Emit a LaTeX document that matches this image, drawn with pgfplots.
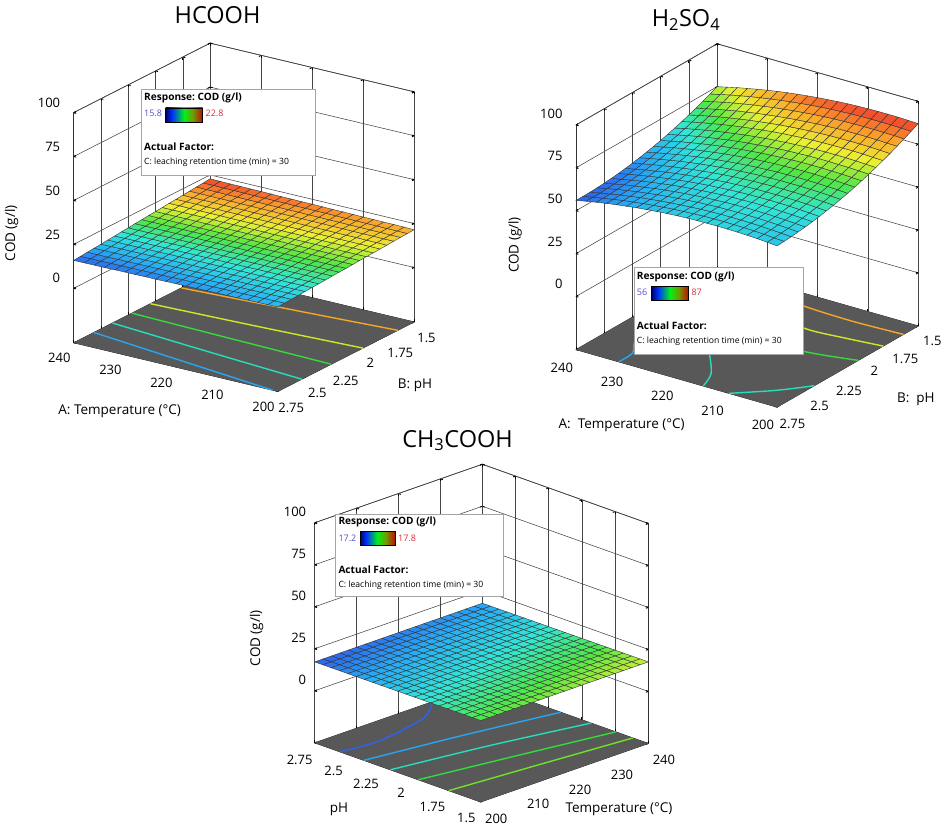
\documentclass[border=0pt]{standalone}
\usepackage{fontspec}
\setmainfont{Open Sans}
\usepackage{pgfplots}
\usepackage{pgfplotstable}
\pgfplotsset{compat=1.18}
\frenchspacing

\definecolor{floorgray}{RGB}{88,88,88}
\definecolor{gridc}{RGB}{70,70,70}
\definecolor{boxc}{RGB}{165,165,165}
\definecolor{numblue}{RGB}{80,80,210}
\definecolor{numred}{RGB}{215,50,60}
\definecolor{kBlue}{RGB}{45,100,235}
\definecolor{kLblue}{RGB}{40,165,240}
\definecolor{kCyan}{RGB}{40,220,190}
\definecolor{kGreen}{RGB}{50,220,60}
\definecolor{kLgreen}{RGB}{110,225,40}
\definecolor{kYellow}{RGB}{210,230,40}
\definecolor{kOrange}{RGB}{245,165,40}

\pgfdeclarehorizontalshading{cbar}{100bp}{rgb(0bp)=(0,0,0.45); rgb(25bp)=(0,0,0.45); rgb(34bp)=(0,0.2,1); rgb(50bp)=(0,0.95,0.1); rgb(62bp)=(0.45,0.6,0); rgb(75bp)=(0.75,0.05,0); rgb(100bp)=(0.75,0.05,0)}

\pgfplotsset{
  colormap={de}{rgb255=(45,95,235) rgb255=(40,175,245) rgb255=(50,230,215) rgb255=(80,230,70) rgb255=(235,240,50) rgb255=(250,165,45) rgb255=(240,65,45)},
  rsm/.style={
    disabledatascaling,
    anchor=origin, clip=false,
    xmin=0,xmax=20,ymin=0,ymax=20,zmin=-31,zmax=100,
    ztick={0,25,50,75,100},
    grid=major,
    major grid style={draw=gridc, line width=0.55pt},
    axis line style={draw=black!80, line width=0.6pt},
    tick style={draw=black, line width=0.9pt},
    major tick length=2.5pt,
    tick label style={font=\fontsize{13}{15}\selectfont},
    /pgf/number format/assume math mode=true,
    colormap name=de,
    no markers,
  },
  surfst/.style={surf, shader=faceted, faceted color=black!80, line width=0.4pt, mesh/rows=21},
  cline/.style={line width=1.4pt, smooth},
}

% HCOOH surface: i = temperature index (200..240 step 2), j = pH index (1.5..2.75 step 0.0625)
\pgfplotstableread{
i j z
0 0 21.5
0 1 21.3
0 2 21.1
0 3 20.9
0 4 20.6
0 5 20.4
0 6 20.2
0 7 20.0
0 8 19.8
0 9 19.5
0 10 19.3
0 11 19.1
0 12 18.9
0 13 18.6
0 14 18.4
0 15 18.2
0 16 18.0
0 17 17.7
0 18 17.5
0 19 17.3
0 20 17.1
1 0 21.6
1 1 21.4
1 2 21.1
1 3 20.9
1 4 20.7
1 5 20.5
1 6 20.2
1 7 20.0
1 8 19.8
1 9 19.5
1 10 19.3
1 11 19.1
1 12 18.9
1 13 18.6
1 14 18.4
1 15 18.2
1 16 17.9
1 17 17.7
1 18 17.5
1 19 17.2
1 20 17.0
2 0 21.7
2 1 21.4
2 2 21.2
2 3 21.0
2 4 20.7
2 5 20.5
2 6 20.3
2 7 20.0
2 8 19.8
2 9 19.5
2 10 19.3
2 11 19.1
2 12 18.8
2 13 18.6
2 14 18.4
2 15 18.1
2 16 17.9
2 17 17.7
2 18 17.4
2 19 17.2
2 20 17.0
3 0 21.7
3 1 21.5
3 2 21.2
3 3 21.0
3 4 20.8
3 5 20.5
3 6 20.3
3 7 20.0
3 8 19.8
3 9 19.6
3 10 19.3
3 11 19.1
3 12 18.8
3 13 18.6
3 14 18.3
3 15 18.1
3 16 17.9
3 17 17.6
3 18 17.4
3 19 17.1
3 20 16.9
4 0 21.8
4 1 21.5
4 2 21.3
4 3 21.0
4 4 20.8
4 5 20.5
4 6 20.3
4 7 20.1
4 8 19.8
4 9 19.6
4 10 19.3
4 11 19.1
4 12 18.8
4 13 18.6
4 14 18.3
4 15 18.1
4 16 17.8
4 17 17.6
4 18 17.3
4 19 17.1
4 20 16.8
5 0 21.8
5 1 21.6
5 2 21.3
5 3 21.1
5 4 20.8
5 5 20.6
5 6 20.3
5 7 20.1
5 8 19.8
5 9 19.6
5 10 19.3
5 11 19.1
5 12 18.8
5 13 18.5
5 14 18.3
5 15 18.0
5 16 17.8
5 17 17.5
5 18 17.3
5 19 17.0
5 20 16.8
6 0 21.9
6 1 21.6
6 2 21.4
6 3 21.1
6 4 20.9
6 5 20.6
6 6 20.3
6 7 20.1
6 8 19.8
6 9 19.6
6 10 19.3
6 11 19.1
6 12 18.8
6 13 18.5
6 14 18.3
6 15 18.0
6 16 17.8
6 17 17.5
6 18 17.2
6 19 17.0
6 20 16.7
7 0 22.0
7 1 21.7
7 2 21.4
7 3 21.2
7 4 20.9
7 5 20.6
7 6 20.4
7 7 20.1
7 8 19.8
7 9 19.6
7 10 19.3
7 11 19.0
7 12 18.8
7 13 18.5
7 14 18.2
7 15 18.0
7 16 17.7
7 17 17.4
7 18 17.2
7 19 16.9
7 20 16.7
8 0 22.0
8 1 21.8
8 2 21.5
8 3 21.2
8 4 20.9
8 5 20.7
8 6 20.4
8 7 20.1
8 8 19.9
8 9 19.6
8 10 19.3
8 11 19.0
8 12 18.8
8 13 18.5
8 14 18.2
8 15 18.0
8 16 17.7
8 17 17.4
8 18 17.1
8 19 16.9
8 20 16.6
9 0 22.1
9 1 21.8
9 2 21.5
9 3 21.3
9 4 21.0
9 5 20.7
9 6 20.4
9 7 20.1
9 8 19.9
9 9 19.6
9 10 19.3
9 11 19.0
9 12 18.8
9 13 18.5
9 14 18.2
9 15 17.9
9 16 17.6
9 17 17.4
9 18 17.1
9 19 16.8
9 20 16.5
10 0 22.2
10 1 21.9
10 2 21.6
10 3 21.3
10 4 21.0
10 5 20.7
10 6 20.4
10 7 20.2
10 8 19.9
10 9 19.6
10 10 19.3
10 11 19.0
10 12 18.7
10 13 18.5
10 14 18.2
10 15 17.9
10 16 17.6
10 17 17.3
10 18 17.0
10 19 16.8
10 20 16.5
11 0 22.2
11 1 21.9
11 2 21.6
11 3 21.3
11 4 21.1
11 5 20.8
11 6 20.5
11 7 20.2
11 8 19.9
11 9 19.6
11 10 19.3
11 11 19.0
11 12 18.7
11 13 18.4
11 14 18.1
11 15 17.9
11 16 17.6
11 17 17.3
11 18 17.0
11 19 16.7
11 20 16.4
12 0 22.3
12 1 22.0
12 2 21.7
12 3 21.4
12 4 21.1
12 5 20.8
12 6 20.5
12 7 20.2
12 8 19.9
12 9 19.6
12 10 19.3
12 11 19.0
12 12 18.7
12 13 18.4
12 14 18.1
12 15 17.8
12 16 17.5
12 17 17.2
12 18 16.9
12 19 16.6
12 20 16.3
13 0 22.3
13 1 22.0
13 2 21.7
13 3 21.4
13 4 21.1
13 5 20.8
13 6 20.5
13 7 20.2
13 8 19.9
13 9 19.6
13 10 19.3
13 11 19.0
13 12 18.7
13 13 18.4
13 14 18.1
13 15 17.8
13 16 17.5
13 17 17.2
13 18 16.9
13 19 16.6
13 20 16.3
14 0 22.4
14 1 22.1
14 2 21.8
14 3 21.5
14 4 21.2
14 5 20.9
14 6 20.5
14 7 20.2
14 8 19.9
14 9 19.6
14 10 19.3
14 11 19.0
14 12 18.7
14 13 18.4
14 14 18.1
14 15 17.8
14 16 17.5
14 17 17.2
14 18 16.8
14 19 16.5
14 20 16.2
15 0 22.5
15 1 22.1
15 2 21.8
15 3 21.5
15 4 21.2
15 5 20.9
15 6 20.6
15 7 20.3
15 8 19.9
15 9 19.6
15 10 19.3
15 11 19.0
15 12 18.7
15 13 18.4
15 14 18.1
15 15 17.7
15 16 17.4
15 17 17.1
15 18 16.8
15 19 16.5
15 20 16.2
16 0 22.5
16 1 22.2
16 2 21.9
16 3 21.6
16 4 21.2
16 5 20.9
16 6 20.6
16 7 20.3
16 8 20.0
16 9 19.6
16 10 19.3
16 11 19.0
16 12 18.7
16 13 18.3
16 14 18.0
16 15 17.7
16 16 17.4
16 17 17.1
16 18 16.7
16 19 16.4
16 20 16.1
17 0 22.6
17 1 22.3
17 2 21.9
17 3 21.6
17 4 21.3
17 5 20.9
17 6 20.6
17 7 20.3
17 8 20.0
17 9 19.6
17 10 19.3
17 11 19.0
17 12 18.7
17 13 18.3
17 14 18.0
17 15 17.7
17 16 17.3
17 17 17.0
17 18 16.7
17 19 16.4
17 20 16.0
18 0 22.6
18 1 22.3
18 2 22.0
18 3 21.6
18 4 21.3
18 5 21.0
18 6 20.6
18 7 20.3
18 8 20.0
18 9 19.6
18 10 19.3
18 11 19.0
18 12 18.6
18 13 18.3
18 14 18.0
18 15 17.6
18 16 17.3
18 17 17.0
18 18 16.6
18 19 16.3
18 20 16.0
19 0 22.7
19 1 22.4
19 2 22.0
19 3 21.7
19 4 21.3
19 5 21.0
19 6 20.7
19 7 20.3
19 8 20.0
19 9 19.6
19 10 19.3
19 11 19.0
19 12 18.6
19 13 18.3
19 14 18.0
19 15 17.6
19 16 17.3
19 17 16.9
19 18 16.6
19 19 16.3
19 20 15.9
20 0 22.8
20 1 22.4
20 2 22.1
20 3 21.7
20 4 21.4
20 5 21.0
20 6 20.7
20 7 20.3
20 8 20.0
20 9 19.7
20 10 19.3
20 11 19.0
20 12 18.6
20 13 18.3
20 14 17.9
20 15 17.6
20 16 17.2
20 17 16.9
20 18 16.6
20 19 16.2
20 20 15.9
}\surfA

% H2SO4 surface
\pgfplotstableread{
i j z
0 0 87.0
0 1 84.9
0 2 82.8
0 3 80.9
0 4 79.0
0 5 77.3
0 6 75.6
0 7 74.1
0 8 72.6
0 9 71.3
0 10 70.0
0 11 68.9
0 12 67.8
0 13 66.9
0 14 66.0
0 15 65.3
0 16 64.6
0 17 64.1
0 18 63.6
0 19 63.3
0 20 63.0
1 0 87.2
1 1 85.1
1 2 83.1
1 3 81.1
1 4 79.3
1 5 77.5
1 6 75.9
1 7 74.4
1 8 72.9
1 9 71.6
1 10 70.4
1 11 69.2
1 12 68.2
1 13 67.2
1 14 66.4
1 15 65.7
1 16 65.0
1 17 64.5
1 18 64.1
1 19 63.7
1 20 63.5
2 0 87.4
2 1 85.3
2 2 83.2
2 3 81.3
2 4 79.5
2 5 77.8
2 6 76.1
2 7 74.6
2 8 73.2
2 9 71.9
2 10 70.6
2 11 69.5
2 12 68.5
2 13 67.6
2 14 66.7
2 15 66.0
2 16 65.4
2 17 64.9
2 18 64.4
2 19 64.1
2 20 63.9
3 0 87.4
3 1 85.3
3 2 83.3
3 3 81.4
3 4 79.6
3 5 77.9
3 6 76.3
3 7 74.7
3 8 73.3
3 9 72.0
3 10 70.8
3 11 69.7
3 12 68.7
3 13 67.8
3 14 67.0
3 15 66.2
3 16 65.6
3 17 65.1
3 18 64.7
3 19 64.4
3 20 64.2
4 0 87.4
4 1 85.3
4 2 83.3
4 3 81.4
4 4 79.6
4 5 77.9
4 6 76.3
4 7 74.8
4 8 73.4
4 9 72.1
4 10 70.9
4 11 69.8
4 12 68.8
4 13 67.9
4 14 67.1
4 15 66.4
4 16 65.8
4 17 65.3
4 18 64.9
4 19 64.6
4 20 64.4
5 0 87.3
5 1 85.2
5 2 83.2
5 3 81.3
5 4 79.5
5 5 77.8
5 6 76.3
5 7 74.8
5 8 73.4
5 9 72.1
5 10 70.9
5 11 69.8
5 12 68.8
5 13 67.9
5 14 67.2
5 15 66.5
5 16 65.9
5 17 65.4
5 18 65.0
5 19 64.7
5 20 64.5
6 0 87.1
6 1 85.0
6 2 83.0
6 3 81.2
6 4 79.4
6 5 77.7
6 6 76.1
6 7 74.7
6 8 73.3
6 9 72.0
6 10 70.8
6 11 69.8
6 12 68.8
6 13 67.9
6 14 67.1
6 15 66.5
6 16 65.9
6 17 65.4
6 18 65.0
6 19 64.8
6 20 64.6
7 0 86.8
7 1 84.7
7 2 82.8
7 3 80.9
7 4 79.1
7 5 77.5
7 6 75.9
7 7 74.4
7 8 73.1
7 9 71.8
7 10 70.7
7 11 69.6
7 12 68.6
7 13 67.8
7 14 67.0
7 15 66.3
7 16 65.8
7 17 65.3
7 18 65.0
7 19 64.7
7 20 64.5
8 0 86.4
8 1 84.4
8 2 82.4
8 3 80.6
8 4 78.8
8 5 77.2
8 6 75.6
8 7 74.2
8 8 72.8
8 9 71.6
8 10 70.4
8 11 69.4
8 12 68.4
8 13 67.6
8 14 66.8
8 15 66.2
8 16 65.6
8 17 65.2
8 18 64.8
8 19 64.6
8 20 64.4
9 0 85.9
9 1 83.9
9 2 82.0
9 3 80.1
9 4 78.4
9 5 76.7
9 6 75.2
9 7 73.8
9 8 72.4
9 9 71.2
9 10 70.1
9 11 69.0
9 12 68.1
9 13 67.2
9 14 66.5
9 15 65.9
9 16 65.3
9 17 64.9
9 18 64.6
9 19 64.3
9 20 64.2
10 0 85.4
10 1 83.4
10 2 81.4
10 3 79.6
10 4 77.9
10 5 76.3
10 6 74.7
10 7 73.3
10 8 72.0
10 9 70.8
10 10 69.6
10 11 68.6
10 12 67.7
10 13 66.9
10 14 66.1
10 15 65.5
10 16 65.0
10 17 64.6
10 18 64.2
10 19 64.0
10 20 63.9
11 0 84.7
11 1 82.7
11 2 80.8
11 3 79.0
11 4 77.3
11 5 75.7
11 6 74.2
11 7 72.7
11 8 71.4
11 9 70.2
11 10 69.1
11 11 68.1
11 12 67.2
11 13 66.4
11 14 65.7
11 15 65.0
11 16 64.5
11 17 64.1
11 18 63.8
11 19 63.6
11 20 63.5
12 0 84.0
12 1 82.0
12 2 80.1
12 3 78.3
12 4 76.6
12 5 75.0
12 6 73.5
12 7 72.1
12 8 70.8
12 9 69.6
12 10 68.5
12 11 67.5
12 12 66.6
12 13 65.8
12 14 65.1
12 15 64.5
12 16 64.0
12 17 63.6
12 18 63.3
12 19 63.1
12 20 63.0
13 0 83.2
13 1 81.2
13 2 79.3
13 3 77.5
13 4 75.8
13 5 74.2
13 6 72.8
13 7 71.4
13 8 70.1
13 9 68.9
13 10 67.8
13 11 66.8
13 12 65.9
13 13 65.1
13 14 64.5
13 15 63.9
13 16 63.4
13 17 63.0
13 18 62.7
13 19 62.5
13 20 62.4
14 0 82.3
14 1 80.3
14 2 78.4
14 3 76.7
14 4 75.0
14 5 73.4
14 6 71.9
14 7 70.6
14 8 69.3
14 9 68.1
14 10 67.0
14 11 66.1
14 12 65.2
14 13 64.4
14 14 63.7
14 15 63.2
14 16 62.7
14 17 62.3
14 18 62.0
14 19 61.9
14 20 61.8
15 0 81.3
15 1 79.3
15 2 77.5
15 3 75.7
15 4 74.0
15 5 72.5
15 6 71.0
15 7 69.6
15 8 68.4
15 9 67.2
15 10 66.2
15 11 65.2
15 12 64.3
15 13 63.6
15 14 62.9
15 15 62.3
15 16 61.9
15 17 61.5
15 18 61.3
15 19 61.1
15 20 61.0
16 0 80.2
16 1 78.3
16 2 76.4
16 3 74.7
16 4 73.0
16 5 71.5
16 6 70.0
16 7 68.7
16 8 67.4
16 9 66.3
16 10 65.2
16 11 64.3
16 12 63.4
16 13 62.7
16 14 62.0
16 15 61.5
16 16 61.0
16 17 60.7
16 18 60.4
16 19 60.3
16 20 60.2
17 0 79.0
17 1 77.1
17 2 75.3
17 3 73.5
17 4 71.9
17 5 70.3
17 6 68.9
17 7 67.6
17 8 66.3
17 9 65.2
17 10 64.2
17 11 63.2
17 12 62.4
17 13 61.6
17 14 61.0
17 15 60.5
17 16 60.0
17 17 59.7
17 18 59.5
17 19 59.3
17 20 59.3
18 0 77.8
18 1 75.9
18 2 74.0
18 3 72.3
18 4 70.7
18 5 69.2
18 6 67.7
18 7 66.4
18 8 65.2
18 9 64.1
18 10 63.0
18 11 62.1
18 12 61.3
18 13 60.6
18 14 59.9
18 15 59.4
18 16 59.0
18 17 58.7
18 18 58.4
18 19 58.3
18 20 58.3
19 0 76.4
19 1 74.5
19 2 72.7
19 3 71.0
19 4 69.4
19 5 67.9
19 6 66.5
19 7 65.1
19 8 63.9
19 9 62.8
19 10 61.8
19 11 60.9
19 12 60.1
19 13 59.4
19 14 58.8
19 15 58.2
19 16 57.8
19 17 57.5
19 18 57.3
19 19 57.2
19 20 57.2
20 0 75.0
20 1 73.1
20 2 71.3
20 3 69.6
20 4 68.0
20 5 66.5
20 6 65.1
20 7 63.8
20 8 62.6
20 9 61.5
20 10 60.5
20 11 59.6
20 12 58.8
20 13 58.1
20 14 57.5
20 15 57.0
20 16 56.6
20 17 56.3
20 18 56.1
20 19 56.0
20 20 56.0
}\surfB

% CH3COOH surface
\pgfplotstableread{
i j z
0 0 17.500
0 1 17.485
0 2 17.470
0 3 17.455
0 4 17.440
0 5 17.425
0 6 17.410
0 7 17.395
0 8 17.380
0 9 17.365
0 10 17.350
0 11 17.335
0 12 17.320
0 13 17.305
0 14 17.290
0 15 17.275
0 16 17.260
0 17 17.245
0 18 17.230
0 19 17.215
0 20 17.200
1 0 17.504
1 1 17.489
1 2 17.474
1 3 17.459
1 4 17.444
1 5 17.429
1 6 17.414
1 7 17.399
1 8 17.384
1 9 17.369
1 10 17.354
1 11 17.339
1 12 17.324
1 13 17.309
1 14 17.294
1 15 17.279
1 16 17.264
1 17 17.249
1 18 17.234
1 19 17.219
1 20 17.204
2 0 17.508
2 1 17.493
2 2 17.478
2 3 17.463
2 4 17.448
2 5 17.433
2 6 17.418
2 7 17.403
2 8 17.388
2 9 17.373
2 10 17.358
2 11 17.343
2 12 17.328
2 13 17.313
2 14 17.298
2 15 17.283
2 16 17.268
2 17 17.253
2 18 17.238
2 19 17.223
2 20 17.208
3 0 17.512
3 1 17.497
3 2 17.482
3 3 17.467
3 4 17.452
3 5 17.437
3 6 17.422
3 7 17.407
3 8 17.392
3 9 17.377
3 10 17.362
3 11 17.347
3 12 17.332
3 13 17.317
3 14 17.302
3 15 17.287
3 16 17.272
3 17 17.257
3 18 17.242
3 19 17.227
3 20 17.212
4 0 17.516
4 1 17.501
4 2 17.486
4 3 17.471
4 4 17.456
4 5 17.441
4 6 17.426
4 7 17.411
4 8 17.396
4 9 17.381
4 10 17.366
4 11 17.351
4 12 17.336
4 13 17.321
4 14 17.306
4 15 17.291
4 16 17.276
4 17 17.261
4 18 17.246
4 19 17.231
4 20 17.216
5 0 17.520
5 1 17.505
5 2 17.490
5 3 17.475
5 4 17.460
5 5 17.445
5 6 17.430
5 7 17.415
5 8 17.400
5 9 17.385
5 10 17.370
5 11 17.355
5 12 17.340
5 13 17.325
5 14 17.310
5 15 17.295
5 16 17.280
5 17 17.265
5 18 17.250
5 19 17.235
5 20 17.220
6 0 17.524
6 1 17.509
6 2 17.494
6 3 17.479
6 4 17.464
6 5 17.449
6 6 17.434
6 7 17.419
6 8 17.404
6 9 17.389
6 10 17.374
6 11 17.359
6 12 17.344
6 13 17.329
6 14 17.314
6 15 17.299
6 16 17.284
6 17 17.269
6 18 17.254
6 19 17.239
6 20 17.224
7 0 17.528
7 1 17.513
7 2 17.498
7 3 17.483
7 4 17.468
7 5 17.453
7 6 17.438
7 7 17.423
7 8 17.408
7 9 17.393
7 10 17.378
7 11 17.363
7 12 17.348
7 13 17.333
7 14 17.318
7 15 17.303
7 16 17.288
7 17 17.273
7 18 17.258
7 19 17.243
7 20 17.228
8 0 17.532
8 1 17.517
8 2 17.502
8 3 17.487
8 4 17.472
8 5 17.457
8 6 17.442
8 7 17.427
8 8 17.412
8 9 17.397
8 10 17.382
8 11 17.367
8 12 17.352
8 13 17.337
8 14 17.322
8 15 17.307
8 16 17.292
8 17 17.277
8 18 17.262
8 19 17.247
8 20 17.232
9 0 17.536
9 1 17.521
9 2 17.506
9 3 17.491
9 4 17.476
9 5 17.461
9 6 17.446
9 7 17.431
9 8 17.416
9 9 17.401
9 10 17.386
9 11 17.371
9 12 17.356
9 13 17.341
9 14 17.326
9 15 17.311
9 16 17.296
9 17 17.281
9 18 17.266
9 19 17.251
9 20 17.236
10 0 17.540
10 1 17.525
10 2 17.510
10 3 17.495
10 4 17.480
10 5 17.465
10 6 17.450
10 7 17.435
10 8 17.420
10 9 17.405
10 10 17.390
10 11 17.375
10 12 17.360
10 13 17.345
10 14 17.330
10 15 17.315
10 16 17.300
10 17 17.285
10 18 17.270
10 19 17.255
10 20 17.240
11 0 17.544
11 1 17.529
11 2 17.514
11 3 17.499
11 4 17.484
11 5 17.469
11 6 17.454
11 7 17.439
11 8 17.424
11 9 17.409
11 10 17.394
11 11 17.379
11 12 17.364
11 13 17.349
11 14 17.334
11 15 17.319
11 16 17.304
11 17 17.289
11 18 17.274
11 19 17.259
11 20 17.244
12 0 17.548
12 1 17.533
12 2 17.518
12 3 17.503
12 4 17.488
12 5 17.473
12 6 17.458
12 7 17.443
12 8 17.428
12 9 17.413
12 10 17.398
12 11 17.383
12 12 17.368
12 13 17.353
12 14 17.338
12 15 17.323
12 16 17.308
12 17 17.293
12 18 17.278
12 19 17.263
12 20 17.248
13 0 17.552
13 1 17.537
13 2 17.522
13 3 17.507
13 4 17.492
13 5 17.477
13 6 17.462
13 7 17.447
13 8 17.432
13 9 17.417
13 10 17.402
13 11 17.387
13 12 17.372
13 13 17.357
13 14 17.342
13 15 17.327
13 16 17.312
13 17 17.297
13 18 17.282
13 19 17.267
13 20 17.252
14 0 17.556
14 1 17.541
14 2 17.526
14 3 17.511
14 4 17.496
14 5 17.481
14 6 17.466
14 7 17.451
14 8 17.436
14 9 17.421
14 10 17.406
14 11 17.391
14 12 17.376
14 13 17.361
14 14 17.346
14 15 17.331
14 16 17.316
14 17 17.301
14 18 17.286
14 19 17.271
14 20 17.256
15 0 17.560
15 1 17.545
15 2 17.530
15 3 17.515
15 4 17.500
15 5 17.485
15 6 17.470
15 7 17.455
15 8 17.440
15 9 17.425
15 10 17.410
15 11 17.395
15 12 17.380
15 13 17.365
15 14 17.350
15 15 17.335
15 16 17.320
15 17 17.305
15 18 17.290
15 19 17.275
15 20 17.260
16 0 17.564
16 1 17.549
16 2 17.534
16 3 17.519
16 4 17.504
16 5 17.489
16 6 17.474
16 7 17.459
16 8 17.444
16 9 17.429
16 10 17.414
16 11 17.399
16 12 17.384
16 13 17.369
16 14 17.354
16 15 17.339
16 16 17.324
16 17 17.309
16 18 17.294
16 19 17.279
16 20 17.264
17 0 17.568
17 1 17.553
17 2 17.538
17 3 17.523
17 4 17.508
17 5 17.493
17 6 17.478
17 7 17.463
17 8 17.448
17 9 17.433
17 10 17.418
17 11 17.403
17 12 17.388
17 13 17.373
17 14 17.358
17 15 17.343
17 16 17.328
17 17 17.313
17 18 17.298
17 19 17.283
17 20 17.268
18 0 17.572
18 1 17.557
18 2 17.542
18 3 17.527
18 4 17.512
18 5 17.497
18 6 17.482
18 7 17.467
18 8 17.452
18 9 17.437
18 10 17.422
18 11 17.407
18 12 17.392
18 13 17.377
18 14 17.362
18 15 17.347
18 16 17.332
18 17 17.317
18 18 17.302
18 19 17.287
18 20 17.272
19 0 17.576
19 1 17.561
19 2 17.546
19 3 17.531
19 4 17.516
19 5 17.501
19 6 17.486
19 7 17.471
19 8 17.456
19 9 17.441
19 10 17.426
19 11 17.411
19 12 17.396
19 13 17.381
19 14 17.366
19 15 17.351
19 16 17.336
19 17 17.321
19 18 17.306
19 19 17.291
19 20 17.276
20 0 17.580
20 1 17.565
20 2 17.550
20 3 17.535
20 4 17.520
20 5 17.505
20 6 17.490
20 7 17.475
20 8 17.460
20 9 17.445
20 10 17.430
20 11 17.415
20 12 17.400
20 13 17.385
20 14 17.370
20 15 17.355
20 16 17.340
20 17 17.325
20 18 17.310
20 19 17.295
20 20 17.280
}\surfC

\begin{document}
\begin{tikzpicture}[x=1pt,y=1pt]
\path[use as bounding box] (0,0) rectangle (941,-832);

% ---------------- HCOOH ----------------
\begin{axis}[rsm,
  x={(-10.205pt,2.4325pt)}, y={(-6.82pt,-3.4725pt)}, z={(0pt,1.757pt)},
  at={(414.2pt,-267.5pt)},
  xtick={0,5,10,15,20}, xticklabels={200,210,220,230,240},
  ytick={0,4,8,12,16,20}, yticklabels={1.5,1.75,2,2.25,2.5,2.75},
  xticklabel style={xshift=-8pt, yshift=-5pt},
  yticklabel style={xshift=4pt, yshift=-5pt},
  zticklabel style={xshift=-10pt, yshift=11pt},
  point meta min=15.8, point meta max=22.8]
\addplot3[fill=floorgray, draw=none] coordinates {(0,0,-31) (20,0,-31) (20,20,-31) (0,20,-31) (0,0,-31)};
\addplot3[cline, kLblue] coordinates {(0.5,20,-31) (10,18.56,-31) (20,17.04,-31)};
\addplot3[cline, kCyan] coordinates {(0,16.48,-31) (10,15.44,-31) (20,14.32,-31)};
\addplot3[cline, kGreen] coordinates {(0,12.16,-31) (10,11.84,-31) (20,11.47,-31)};
\addplot3[cline, kYellow] coordinates {(0,7.52,-31) (10,8.2,-31) (20,8.75,-31)};
\addplot3[cline, kOrange] coordinates {(0,2.4,-31) (8.5,3.2,-31) (20,4.2,-31)};
\addplot3[surfst] table[x=i,y=j,z=z] {\surfA};
\end{axis}

% ---------------- H2SO4 ----------------
\begin{axis}[rsm,
  x={(-10.055pt,2.875pt)}, y={(-7.055pt,-4.0575pt)}, z={(0pt,1.715pt)},
  at={(918.2pt,-272.8pt)},
  xtick={0,5,10,15,20}, xticklabels={200,210,220,230,240},
  ytick={0,4,8,12,16,20}, yticklabels={1.5,1.75,2,2.25,2.5,2.75},
  xticklabel style={xshift=-8pt, yshift=-7pt},
  yticklabel style={xshift=6pt, yshift=-4pt},
  zticklabel style={xshift=-10pt, yshift=13pt},
  point meta min=56, point meta max=87]
\addplot3[fill=floorgray, draw=none] coordinates {(0,0,-31) (20,0,-31) (20,20,-31) (0,20,-31) (0,0,-31)};
\addplot3[cline, kOrange] coordinates {(0,2.08,-31) (5,2.32,-31) (10,2.08,-31) (12.5,1.28,-31) (14.3,0,-31)};
\addplot3[cline, kYellow] coordinates {(0,4.96,-31) (3.5,5.44,-31) (7,5.76,-31) (11,4.8,-31) (15,2.56,-31) (18,0,-31)};
\addplot3[cline, kGreen] coordinates {(0,8.48,-31) (5,9.6,-31) (10,8.8,-31) (15,6.08,-31) (20,1.92,-31)};
\addplot3[cline, kCyan] coordinates {(4.8,20,-31) (2,17.28,-31) (0,14.72,-31)};
\addplot3[cline, kCyan] coordinates {(7.35,20,-31) (8.25,17.6,-31) (10.8,14.24,-31) (13,12,-31) (16.5,8.8,-31) (20,6.08,-31)};
\addplot3[cline, kLblue] coordinates {(15.75,20,-31) (15.85,17.92,-31) (17,16,-31) (19,12,-31) (20,10.56,-31)};
\addplot3[surfst] table[x=i,y=j,z=z] {\surfB};
\end{axis}

% ---------------- CH3COOH ----------------
\begin{axis}[rsm,
  x={(8.3835pt,2.925pt)}, y={(-8.299pt,2.9575pt)}, z={(0pt,1.68pt)},
  at={(480.65pt,-749.9pt)},
  xtick={0,5,10,15,20}, xticklabels={200,210,220,230,240},
  ytick={0,4,8,12,16,20}, yticklabels={1.5,1.75,2,2.25,2.5,2.75},
  xticklabel style={xshift=8pt, yshift=-6pt},
  yticklabel style={xshift=-7pt, yshift=-6pt},
  zticklabel style={xshift=-5pt, yshift=11pt},
  point meta min=17.2, point meta max=17.8]
\addplot3[fill=floorgray, draw=none] coordinates {(0,0,-31) (20,0,-31) (20,20,-31) (0,20,-31) (0,0,-31)};
\addplot3[cline, kBlue] coordinates {(0,16.96,-31) (4.35,16.48,-31) (10.8,17.76,-31) (14,20,-31)};
\addplot3[cline, kLblue] coordinates {(0,14.08,-31) (10,12.48,-31) (20,10.56,-31)};
\addplot3[cline, kCyan] coordinates {(0,10.88,-31) (10,9.12,-31) (20,6.9,-31)};
\addplot3[cline, kGreen] coordinates {(0,7.52,-31) (10,5.76,-31) (20,3.92,-31)};
\addplot3[cline, kLgreen] coordinates {(0,3.84,-31) (10,2.88,-31) (20,1.87,-31)};
\addplot3[surfst] table[x=i,y=j,z=z] {\surfC};
\end{axis}

% ---------------- titles and axis labels ----------------
\begin{scope}[every node/.style={font=\fontsize{23.5}{26}\selectfont, anchor=base}]
\node at (217.5,-23.3) {HCOOH};
\node at (686,-27) {H\textsubscript{2}SO\textsubscript{4}};
\node at (457.5,-447) {CH\textsubscript{3}COOH};
\end{scope}
\begin{scope}[every node/.style={font=\fontsize{13.5}{15}\selectfont, inner sep=0pt}]
\node[rotate=90] at (11.7,-233.3) {COD (g/l)};
\node at (119.7,-411.7) {A: Temperature (°C)};
\node at (415,-385) {B: pH};
\node[rotate=90] at (515,-245) {COD (g/l)};
\node at (621.7,-425.7) {A:\ \ Temperature (°C)};
\node at (915.8,-399) {B:\ \ pH};
\node[rotate=90] at (256.7,-638.3) {COD (g/l)};
\node at (339,-809.3) {pH};
\node at (619,-809.3) {Temperature (°C)};
\end{scope}

% ---------------- legend boxes ----------------
\begin{scope}[every node/.style={font=\fontsize{8.6}{10}\selectfont, inner sep=0pt, anchor=west},
  bnode/.style={font=\fontsize{10.1}{12}\selectfont\bfseries}]
% HCOOH
\draw[boxc, fill=white, line width=0.7pt] (141.7,-89.3) rectangle (315,-175);
\node[bnode] at (144,-97.7) {Response: COD (g/l)};
\node[text=numblue, font=\fontsize{9}{10}\selectfont] at (144,-113.5) {15.8};
\shade[shading=cbar] (165.7,-108) rectangle (202.5,-122.3);
\draw[black, line width=0.7pt] (165.7,-108) rectangle (202.5,-122.3);
\node[text=numred, font=\fontsize{9}{10}\selectfont] at (205.5,-113.5) {22.8};
\node[bnode] at (144,-146.7) {Actual Factor:};
\node at (144,-162.3) {C: leaching retention time (min) = 30};
% H2SO4
\draw[boxc, fill=white, line width=0.7pt] (634,-267.7) rectangle (803.3,-354);
\node[bnode] at (636.7,-276.7) {Response: COD (g/l)};
\node[text=numblue, font=\fontsize{9}{10}\selectfont] at (636.7,-292.5) {56};
\shade[shading=cbar] (651.7,-286.7) rectangle (688.3,-300.7);
\draw[black, line width=0.7pt] (651.7,-286.7) rectangle (688.3,-300.7);
\node[text=numred, font=\fontsize{9}{10}\selectfont] at (691.3,-292.5) {87};
\node[bnode] at (636.7,-325.7) {Actual Factor:};
\node at (636.7,-341.7) {C: leaching retention time (min) = 30};
% CH3COOH
\draw[boxc, fill=white, line width=0.7pt] (335,-514) rectangle (503.3,-596.7);
\node[bnode] at (338.3,-522.3) {Response: COD (g/l)};
\node[text=numblue, font=\fontsize{9}{10}\selectfont] at (338.3,-538) {17.2};
\shade[shading=cbar] (360,-531.7) rectangle (395,-545);
\draw[black, line width=0.7pt] (360,-531.7) rectangle (395,-545);
\node[text=numred, font=\fontsize{9}{10}\selectfont] at (398,-538) {17.8};
\node[bnode] at (338.3,-569.3) {Actual Factor:};
\node at (338.3,-585) {C: leaching retention time (min) = 30};
\end{scope}
\end{tikzpicture}
\end{document}
